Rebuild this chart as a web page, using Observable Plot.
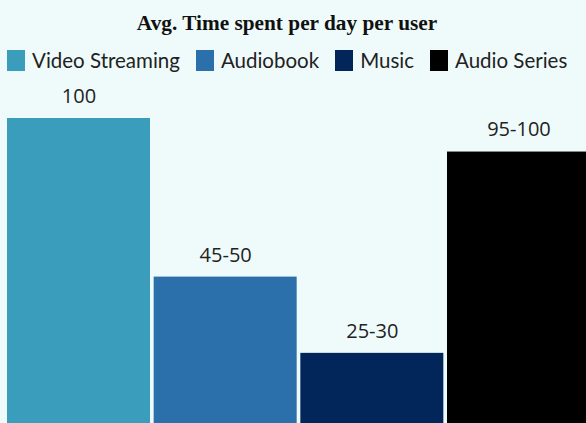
<!DOCTYPE html>
<html>
<head>
<meta charset="utf-8">
<script src="https://cdn.jsdelivr.net/npm/d3@7"></script>
<script src="https://cdn.jsdelivr.net/npm/@observablehq/plot@0.6"></script>
<style>
  html, body { margin: 0; padding: 0; background: #effbfb; }
  body { width: 586px; height: 423px; overflow: hidden; font-family: Lato, sans-serif; }
  #title { font-family: "Liberation Serif", serif; font-weight: bold; font-size: 21.3px; text-align: center; color: #111; height: 26px; padding-top: 10px; line-height: 26px; padding-right: 12px; }
  #legend { height: 44px; width: 620px; padding-left: 7px; box-sizing: border-box; padding-top: 12px; overflow: hidden; }
  #legend .plot-swatches { flex-wrap: nowrap !important; white-space: nowrap; }
  #legend .plot-swatch, #legend span { margin-right: 16px !important; }
  #legend svg { margin-right: 7px !important; }
  #chart svg { display: block; }
</style>
</head>
<body>
<div id="title">Avg. Time spent per day per user</div>
<div id="legend"></div>
<div id="chart"></div>
<script>
const categories = ["Video Streaming", "Audiobook", "Music", "Audio Series"];
const values = [100, 48, 23, 89];
const labels = ["100", "45-50", "25-30", "95-100"];
const colors = ["#3a9dbb", "#2b70ab", "#022659", "#000000"];

const data = categories.map((c, i) => ({category: c, value: values[i], label: labels[i]}));

const plot = Plot.plot({
  width: 586,
  height: 343,
  marginTop: 38,
  marginBottom: 0,
  marginLeft: 7,
  marginRight: -4,
  style: {background: "transparent", fontFamily: "Lato, sans-serif", overflow: "hidden"},
  x: {domain: categories, paddingInner: 0.025, paddingOuter: 0, round: false, axis: null},
  y: {domain: [0, 100], axis: null},
  color: {domain: categories, range: colors},
  marks: [
    Plot.barY(data, {x: "category", y: "value", fill: "category"}),
    Plot.text(data, {x: "category", y: "value", text: "label", dy: -22, fontSize: 20, fontFamily: "Open Sans, sans-serif", fill: "#222", lineAnchor: "middle"})
  ]
});
document.getElementById("chart").appendChild(plot);
const legend = plot.legend("color", {
  swatchWidth: 18, swatchHeight: 21,
  style: {fontSize: "20.5px", fontFamily: "Lato, sans-serif", color: "#222", margin: "0", minHeight: "0"}
});
document.getElementById("legend").appendChild(legend);
</script>
</body>
</html>
